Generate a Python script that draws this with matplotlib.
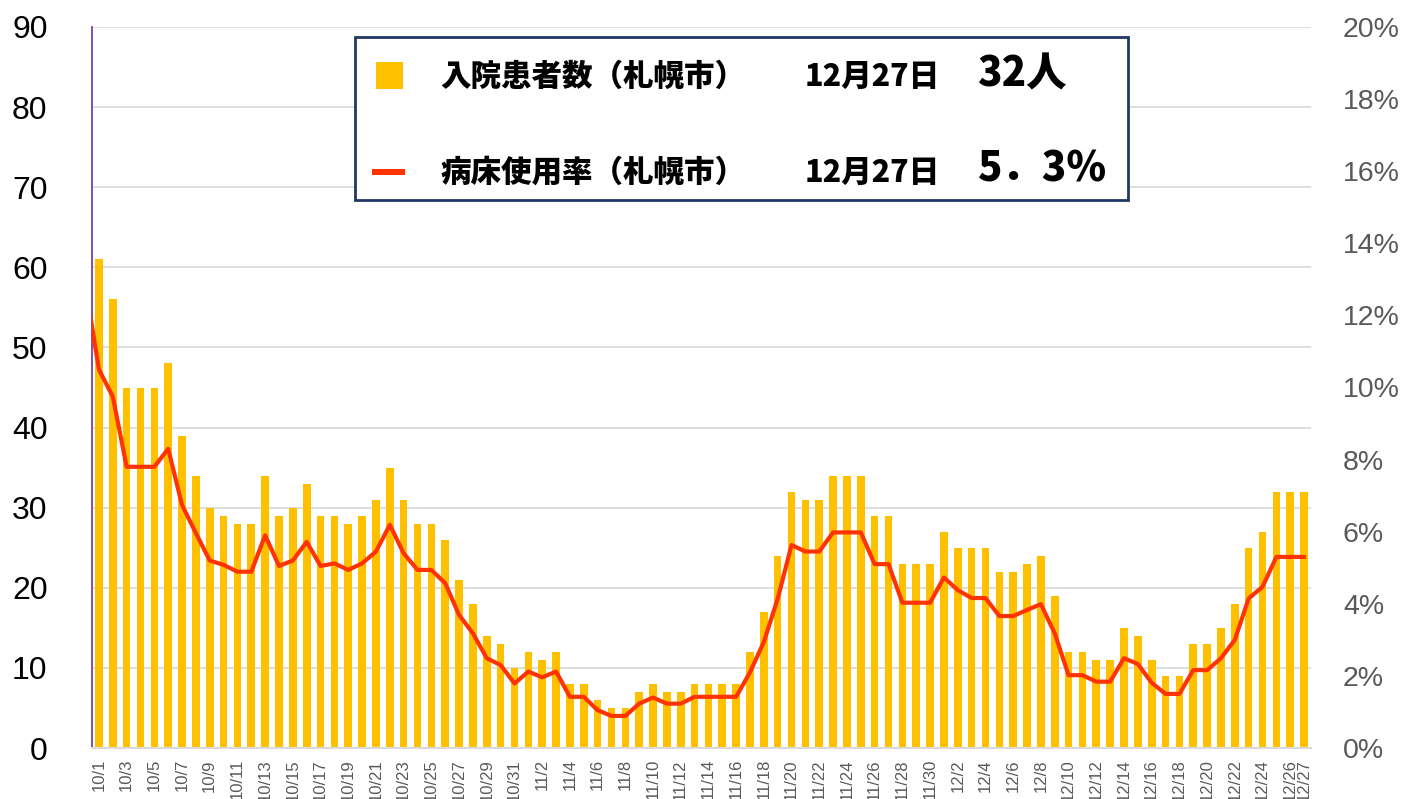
import matplotlib
matplotlib.use('Agg')
from matplotlib import pyplot as plt
from matplotlib.patches import Rectangle
from matplotlib.ticker import FuncFormatter
import numpy as np

# dates 10/1 .. 12/27
dates = ['10/%d' % d for d in range(1, 32)] + ['11/%d' % d for d in range(1, 31)] + \
        ['12/%d' % d for d in range(1, 28)]

# hospitalised patients (Sapporo)
patients = [61, 56, 45, 45, 45, 48, 39, 34, 30, 29, 28, 28, 34, 29, 30, 33, 29, 29, 28, 29,
            31, 35, 31, 28, 28, 26, 21, 18, 14, 13, 10,
            12, 11, 12, 8, 8, 6, 5, 5, 7, 8, 7, 7, 8, 8, 8, 8, 12, 17, 24, 32,
            31, 31, 34, 34, 34, 29, 29, 23, 23, 23,
            27, 25, 25, 25, 22, 22, 23, 24, 19, 12, 12, 11, 11, 15, 14, 11, 9, 9, 13, 13,
            15, 18, 25, 27, 32, 32, 32]

# bed occupancy rate (%)
rate_sep30 = 12.9
rate = [10.5, 9.75, 7.8, 7.8, 7.8, 8.3, 6.74, 5.96, 5.2, 5.08, 4.89, 4.89, 5.9, 5.05, 5.2,
        5.72, 5.05, 5.12, 4.94, 5.12, 5.45, 6.19, 5.4, 4.94, 4.94, 4.57, 3.69, 3.18, 2.49,
        2.3, 1.79,
        2.12, 1.96, 2.12, 1.42, 1.42, 1.05, 0.89, 0.89, 1.23, 1.4, 1.23, 1.23, 1.42, 1.42,
        1.42, 1.42, 2.1, 2.94, 4.14, 5.63, 5.45, 5.45, 5.98, 5.98, 5.98, 5.1, 5.1, 4.03,
        4.03, 4.03,
        4.73, 4.38, 4.16, 4.16, 3.66, 3.66, 3.83, 3.99, 3.18, 2.02, 2.02, 1.84, 1.84, 2.49,
        2.33, 1.81, 1.5, 1.5, 2.16, 2.16, 2.49, 3.0, 4.15, 4.47, 5.3, 5.3, 5.3]

W, H = 1407, 799
fig = plt.figure(figsize=(W / 100, H / 100), dpi=100)
ax = fig.add_axes([92 / W, 1 - 748 / H, (1311 - 92) / W, (748 - 27) / H])
ax2 = ax.twinx()

x = np.arange(len(dates))
ax.bar(x, patients, width=0.55, color='#FFC000', zorder=2)
ax.set_xlim(-0.5, len(dates) - 0.5)
ax.set_ylim(0, 90)
ax.set_yticks(range(0, 91, 10))
ax.grid(axis='y', color='#d9d9d9', lw=1.2, zorder=0)
ax.set_axisbelow(True)

tick_pos = list(range(0, len(dates), 2)) + [len(dates) - 1]
ax.set_xticks(tick_pos)
ax.set_xticklabels([dates[i] for i in tick_pos], rotation=90, fontsize=12,
                   color='#595959', family='Liberation Sans')
ax.tick_params(axis='x', length=0, pad=8)
ax.tick_params(axis='y', length=0, labelsize=23, pad=32)
for lab in ax.get_yticklabels():
    lab.set_family('Liberation Sans')

ax.spines['left'].set_color('#7030A0')
ax.spines['left'].set_linewidth(1.2)
ax.spines['bottom'].set_color('#d9d9d9')
ax.spines['bottom'].set_linewidth(1.5)
ax.spines['top'].set_visible(False)
ax.spines['right'].set_visible(False)
for s in ax2.spines.values():
    s.set_visible(False)

ax2.plot(np.arange(-1, len(dates)), [rate_sep30] + rate, color='#FF3300', lw=3,
         solid_joinstyle='round')
ax2.set_xlim(-0.5, len(dates) - 0.5)
ax2.set_ylim(0, 20)
ax2.set_yticks(range(0, 21, 2))
ax2.yaxis.set_major_formatter(FuncFormatter(lambda v, p: '%d%%' % v))
ax2.tick_params(axis='y', length=0, labelsize=20.5, labelcolor='#595959', pad=23)
for lab in ax2.get_yticklabels():
    lab.set_family('Liberation Sans')

# legend box
fig.patches.append(Rectangle((355 / W, 1 - 200 / H), (1128 - 355) / W, (200 - 37) / H,
                             transform=fig.transFigure, facecolor='white',
                             edgecolor='#1F3864', lw=2, zorder=5))
fig.patches.append(Rectangle((376 / W, 1 - 89 / H), 27 / W, 27 / H,
                             transform=fig.transFigure, facecolor='#FFC000',
                             edgecolor='none', zorder=6))
fig.patches.append(Rectangle((372 / W, 1 - 175 / H), 33 / W, 6 / H,
                             transform=fig.transFigure, facecolor='#FF3300',
                             edgecolor='none', zorder=6))
jp = ['Noto Sans CJK JP', 'DejaVu Sans']
rows = [(76, '入院患者数（札幌市）', '12月27日', '32人'),
        (172, '病床使用率（札幌市）', '12月27日', '5．3%')]
for y, label, day, val in rows:
    fig.text(440 / W, 1 - y / H, label, family=jp, fontsize=22, fontweight='black',
             va='center', ha='left', zorder=7)
    fig.text(805 / W, 1 - y / H, day, family=jp, fontsize=22, fontweight='black',
             va='center', ha='left', zorder=7)
    fig.text(978 / W, 1 - (y - 2) / H, val, family=jp, fontsize=29, fontweight='black',
             va='center', ha='left', zorder=7)

fig.savefig('out.png', dpi=100)
